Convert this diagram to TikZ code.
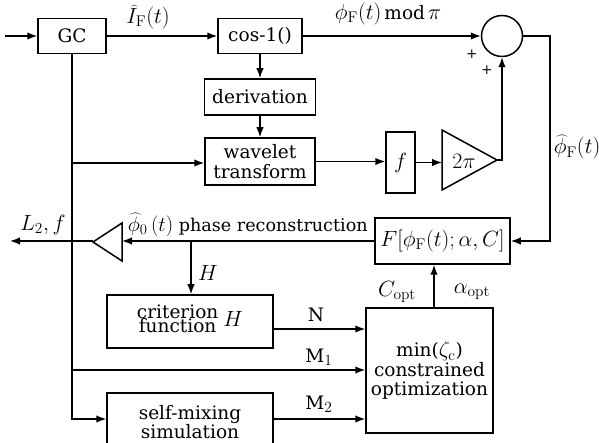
\RequirePackage{fix-cm}
\documentclass[tikz,border=0pt]{standalone}
\usepackage[no-math]{fontspec}
\setmainfont{DejaVu Serif}[Scale=0.95]
\usetikzlibrary{arrows.meta}
\newcommand{\mymath}[1]{\scalebox{1.13}{$#1$}}
\begin{document}
\begin{tikzpicture}[x=1pt,y=-1pt, line width=1.5pt,
  font=\fontsize{19.5}{20.5}\selectfont,
  box/.style={draw, rectangle, inner sep=0pt, align=center},
  arr/.style={-{Latex[length=10pt,width=7.5pt]}},
  lbl/.style={inner sep=0pt},
  plus/.style={inner sep=0pt, font=\fontsize{14.5}{14.5}\selectfont}]
\useasboundingbox (0,0) rectangle (599,443);
\clip (0,0) rectangle (599,443);
% boxes
\node[box, minimum width=68pt, minimum height=35pt] (gc) at (72,36) {GC};
\node[box, minimum width=84pt, minimum height=35pt] (cos) at (260,36) {cos-1()};
\node[box, minimum width=111pt, minimum height=36pt] (der) at (260,97) {derivation};
\node[box, minimum width=110pt, minimum height=47pt] (wav) at (260,161.5) {wavelet\\[-1pt]transform};
\node[box, minimum width=29pt, minimum height=61pt] (fb) at (400.5,162.5) {\mymath{f}};
\node[draw, circle, minimum size=41pt, inner sep=0pt] (sum) at (502,36) {};
\node[box, minimum width=135pt, minimum height=46pt] (Fb) at (442.5,241) {\mymath{F[\phi_{\mathrm F}(t);\alpha,C]}};
\node[box, minimum width=127pt, minimum height=125pt] (opt) at (429.5,370.5) {min(\mymath{\zeta_{\mathrm c}})\\[-1pt]constrained\\[-1pt]optimization};
\node[box, minimum width=166pt, minimum height=53pt] (crit) at (190,321.5)
  {\begin{tabular}{@{}c@{}}criterion\\[-6pt]function\end{tabular}\;\mymath{H}};
\node[box, minimum width=166pt, minimum height=58pt] (sm) at (190,422) {self-mixing\\[-1pt]simulation};
% triangles
\draw (442,130) -- (497,160) -- (442,190) -- cycle;
\node[lbl] (twopi) at (464,161) {\mymath{2\pi}};
\coordinate (t2in) at (442,162.5);
\coordinate (t2out) at (497,160);
\draw (122,223) -- (93,242) -- (122,261) -- cycle;
\coordinate (ltin) at (122,241);
\coordinate (ltout) at (93,241);
\coordinate (lend) at (10,241);
% helper coordinates
\coordinate (in) at (5,36);
\coordinate (wv) at (72,163);
\coordinate (m1) at (72,370);
\coordinate (br) at (191,241);
\coordinate (rc) at (550,36);
\path ([yshift=-7.5pt]crit.east) coordinate (ns);
\path ([yshift=3pt]sm.east) coordinate (m2s);
\path (opt.north) ++(4.5,0) coordinate (oup);
% connectors
\draw[arr] (in) -- (gc.west);
\draw[arr] (gc.east) -- (cos.west);
\draw[arr] (cos.east) -- (sum.west);
\draw[arr] (cos.south) -- (der.north);
\draw[arr] (der.south) -- (wav.north);
\draw[arr] (wav.east) -- (wav.east -| fb.west);
\draw[arr] (fb.east) -- (t2in);
\draw[arr] (t2out) -| (sum.south);
\draw[arr] (sum.east) -- (rc) |- (Fb.east);
\draw[arr] (Fb.west) -- (ltin);
\draw[arr] (ltout) -- (lend);
\draw[arr] (br) -- (br |- crit.north);
\draw[arr] (gc.south) |- (m2s -| sm.west);
\draw[arr] (wv) -- (wv -| wav.west);
\draw[arr] (m1) -- (m1 -| opt.west);
\draw[arr] (ns) -- (ns -| opt.west);
\draw[arr] (m2s) -- (m2s -| opt.west);
\draw[arr] (oup) -- (oup |- Fb.south);
% labels
\node[lbl] at (148,17) {\mymath{\widehat{I}_{\mathrm F}(t)}};
\node[lbl] at (388,14) {\mymath{\phi_{\mathrm F}(t)}\,mod\,\mymath{\pi}};
\node[plus] at (472,54) {+};
\node[plus] at (487,70) {+};
\node[lbl, anchor=west] at (553,147) {\mymath{\widehat{\phi}_{\mathrm F}(t)}};
\node[lbl] at (43,225) {\mymath{L_2,f}};
\node[lbl, anchor=west, font=\fontsize{18.5}{19.5}\selectfont] at (127,225) {\mymath{\widehat{\phi}_0\,(t)} phase reconstruction};
\node[lbl] at (208,273) {\mymath{H}};
\node[lbl] at (316,315) {N};
\node[lbl] at (319,357) {M\mymath{_1}};
\node[lbl] at (319,404) {M\mymath{_2}};
\node[lbl] at (397,292) {\mymath{C_{\mathrm{opt}}}};
\node[lbl] at (472,292) {\mymath{\alpha_{\mathrm{opt}}}};
\end{tikzpicture}
\end{document}
